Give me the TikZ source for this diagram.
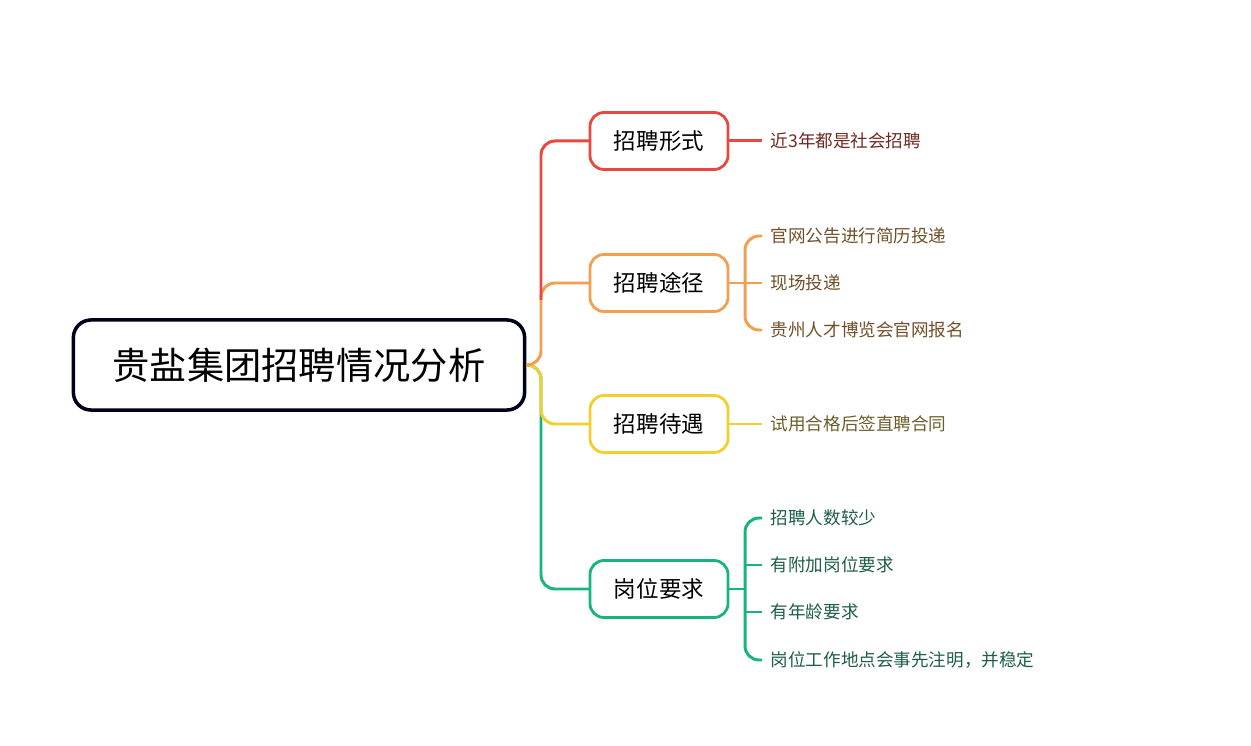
\documentclass[tikz,border=0pt]{standalone}
\usepackage{fontspec}
\setmainfont{Noto Sans CJK SC}
\begin{document}
\begin{tikzpicture}[x=0.01cm,y=-0.01cm]
\definecolor{cr}{HTML}{E8483E}\definecolor{co}{HTML}{F0A050}
\definecolor{cy}{HTML}{F0D02C}\definecolor{cg}{HTML}{17B57C}
\definecolor{tr}{HTML}{6E2A22}\definecolor{to}{HTML}{70502A}
\definecolor{ty}{HTML}{6A5E2A}\definecolor{tg}{HTML}{1E5E44}
\tikzset{
 root/.style={draw=black!90!blue,line width=1pt,rounded corners=5pt,minimum width=4.51cm,minimum height=0.9cm,font=\fontsize{10.6pt}{12pt}\selectfont,inner sep=0,fill=white},
 lone/.style={draw=#1,line width=0.8pt,rounded corners=4pt,minimum width=1.38cm,minimum height=0.57cm,font=\fontsize{6.4pt}{8pt}\selectfont,fill=white,inner sep=0},
 br/.style={draw=#1,line width=0.85pt,rounded corners=4pt},
 leaf/.style={anchor=west,font=\fontsize{5pt}{6pt}\selectfont,inner sep=0,text=#1}}
\useasboundingbox (0,0) rectangle (1251,746);
\node[root] (R) at (299,365) {贵盐集团招聘情况分析};
\coordinate (T) at (541,365);
\draw[br=cg] (R.east) -- (T) |- (590,589);
\draw[br=cy] (R.east) -- (T) |- (590,424);
\draw[br=co] (R.east) -- (T) |- (590,283);
\draw[br=cr] (541,300) |- (590,141);
\node[lone=cr] (A) at (659,141) {招聘形式};
\node[lone=co] (B) at (659,283) {招聘途径};
\node[lone=cy] (C) at (659,424) {招聘待遇};
\node[lone=cg] (D) at (659,589) {岗位要求};
% leaves
\node[leaf=tr] (a1) at (770,141) {近3年都是社会招聘};
\draw[br=cr] (A.east) -- (762,141);
\node[leaf=to] (b1) at (770,236) {官网公告进行简历投递};
\node[leaf=to] (b2) at (770,283) {现场投递};
\node[leaf=to] (b3) at (770,330) {贵州人才博览会官网报名};
\draw[br=co] (B.east) -- (762,283);
\draw[br=co] (762,236) -| (745,330) -- (762,330);
\node[leaf=ty] (c1) at (770,424) {试用合格后签直聘合同};
\draw[br=cy] (C.east) -- (762,424);
\node[leaf=tg] (d1) at (770,518) {招聘人数较少};
\node[leaf=tg] (d2) at (770,565) {有附加岗位要求};
\node[leaf=tg] (d3) at (770,612) {有年龄要求};
\node[leaf=tg] (d4) at (770,660) {岗位工作地点会事先注明，并稳定};
\draw[br=cg] (D.east) -- (745,589);
\draw[br=cg] (762,518) -| (745,660) -- (762,660);
\draw[br=cg] (745,565) -- (762,565) (745,612) -- (762,612);
\end{tikzpicture}
\end{document}
